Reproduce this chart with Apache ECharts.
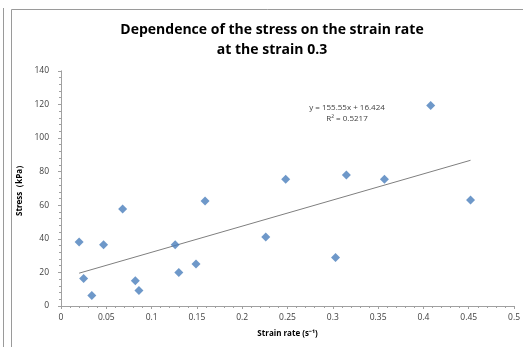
<!DOCTYPE html>
<html><head><meta charset="utf-8">
<script src="https://cdn.jsdelivr.net/npm/echarts@6/dist/echarts.min.js"></script>
<style>html,body{margin:0;padding:0;background:#fff}#c{width:523px;height:347px}</style>
</head><body><div id="c"></div>
<script>
const strainRate = [0.020,0.025,0.034,0.047,0.068,0.082,0.086,0.126,0.130,0.149,0.159,0.226,0.248,0.303,0.315,0.357,0.408,0.452];
const stress =     [38.1, 16.3, 6.2, 36.5, 57.7, 15.1, 9.3, 36.5, 20.0, 25.0, 62.5, 41.0, 75.4, 28.8, 78.0, 75.4, 119.4, 63.1];
const trendSlope = 155.55;
const trendIntercept = 16.424;
const trendLabel = ['y = 155.55x + 16.424', 'R² = 0.5217'];
const titleLines = ['Dependence of the stress on the strain rate', 'at the strain 0.3'];

const points = strainRate.map((x,i)=>[x, stress[i]]);
const xMin = Math.min(...strainRate), xMax = Math.max(...strainRate);
const trend = [[xMin, trendSlope*xMin+trendIntercept],[xMax, trendSlope*xMax+trendIntercept]];

const chart = echarts.init(document.getElementById('c'));
const font = '"Open Sans", "Liberation Sans", sans-serif';
chart.setOption({
  animation:false,
  textStyle:{fontFamily:font},
  title:{text:titleLines.join('\n'), left:267, textAlign:'center', top:15,
    textStyle:{fontSize:14, fontWeight:'bold', color:'#000', fontFamily:font, lineHeight:20}},
  grid:{left:61, right:5, top:70.8, bottom:41},
  xAxis:{type:'value', min:0, max:0.5, interval:0.05,
    name:'Strain rate (s⁻¹)', nameLocation:'middle', nameGap:24,
    nameTextStyle:{fontSize:8, fontWeight:'bold', color:'#000', fontFamily:font},
    axisLine:{lineStyle:{color:'#a0a0a0'}},
    axisTick:{show:true, inside:false, length:3, lineStyle:{color:'#a0a0a0'}},
    minorTick:{show:true, splitNumber:5, length:2, lineStyle:{color:'#a0a0a0'}},
    axisLabel:{fontSize:8.5, color:'#404040', margin:7, formatter:v=>String(+v.toFixed(2))},
    splitLine:{show:false}},
  yAxis:{type:'value', min:0, max:140, interval:20,
    name:'Stress（kPa）', nameLocation:'middle', nameGap:30, nameRotate:90,
    nameTextStyle:{fontSize:8, fontWeight:'bold', color:'#000', fontFamily:font},
    axisLine:{show:true, lineStyle:{color:'#a0a0a0'}},
    axisTick:{show:true, length:3, lineStyle:{color:'#a0a0a0'}},
    minorTick:{show:true, splitNumber:5, length:2, lineStyle:{color:'#a0a0a0'}},
    axisLabel:{fontSize:8.5, color:'#404040', margin:12},
    splitLine:{show:false}},
  series:[
    {type:'scatter', data:points, symbol:'diamond', symbolSize:9,
      itemStyle:{color:'#4a7ebb'}, z:3},
    {type:'line', data:trend, symbol:'none', lineStyle:{color:'#7f7f7f', width:1}, z:2}
  ],
  graphic:[
    {type:'line', shape:{x1:3.5,y1:8,x2:3.5,y2:347}, style:{stroke:'#9a9a9a', lineWidth:1}},
    {type:'line', shape:{x1:11.5,y1:9.5,x2:11.5,y2:347}, style:{stroke:'#9a9a9a', lineWidth:1}},
    {type:'line', shape:{x1:11.5,y1:9.5,x2:523,y2:9.5}, style:{stroke:'#9a9a9a', lineWidth:1}},
    {type:'text', x:347, y:104, style:{text:trendLabel[0], fontSize:8, fill:'#404040', fontFamily:font, textAlign:'center'}},
    {type:'text', x:347, y:115, style:{text:trendLabel[1], fontSize:8, fill:'#404040', fontFamily:font, textAlign:'center'}}
  ]
});
</script></body></html>
